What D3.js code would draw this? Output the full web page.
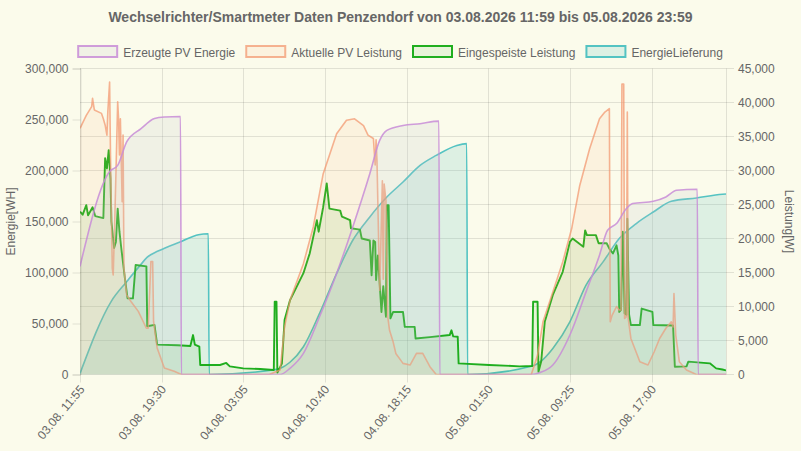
<!DOCTYPE html>
<html>
<head>
<meta charset="utf-8">
<script src="https://cdn.jsdelivr.net/npm/d3@7"></script>
<style>
  html, body { margin: 0; padding: 0; background: #fbfbeb; }
  svg { display: block; font-family: "Liberation Sans", Arial, Helvetica, sans-serif; }
</style>
</head>
<body>
<svg width="801" height="451"></svg>
<script>
const titleText = "Wechselrichter/Smartmeter Daten Penzendorf von 03.08.2026 11:59 bis 05.08.2026 23:59";
const seriesNames = ["Erzeugte PV Energie", "Aktuelle PV Leistung", "Eingespeiste Leistung", "EnergieLieferung"];
const xTicks = ["03.08. 11:55", "03.08. 19:30", "04.08. 03:05", "04.08. 10:40", "04.08. 18:15", "05.08. 01:50", "05.08. 09:25", "05.08. 17:00"];
const xStart = "03.08. 11:55";
const xEnd = "05.08. 23:55";
const leftTicks = [0, 50000, 100000, 150000, 200000, 250000, 300000];
const rightTicks = [0, 5000, 10000, 15000, 20000, 25000, 30000, 35000, 40000, 45000];

// Energie [Wh], left axis
const erzeugtePV = [
  ["03.08. 11:55", 106000], ["03.08. 14:40", 199000], ["03.08. 15:25", 205000], ["03.08. 16:15", 228000],
  ["03.08. 17:35", 241000], ["03.08. 18:50", 251000], ["03.08. 19:45", 252500], ["03.08. 21:15", 253000],
  ["03.08. 21:20", 0], ["04.08. 06:30", 0], ["04.08. 07:25", 6000], ["04.08. 08:40", 20700],
  ["04.08. 10:10", 56600], ["04.08. 11:45", 99000], ["04.08. 13:15", 144700], ["04.08. 14:50", 196900],
  ["04.08. 15:45", 229500], ["04.08. 16:25", 239300], ["04.08. 17:55", 244200], ["04.08. 19:30", 245900],
  ["04.08. 21:15", 248400], ["04.08. 21:20", 0], ["05.08. 05:50", 0], ["05.08. 06:40", 2000],
  ["05.08. 07:50", 9300], ["05.08. 09:25", 38700], ["05.08. 10:55", 81000], ["05.08. 12:10", 117000],
  ["05.08. 12:55", 141400], ["05.08. 13:45", 148000], ["05.08. 14:40", 162700], ["05.08. 15:15", 167600],
  ["05.08. 17:10", 169800], ["05.08. 18:20", 174000], ["05.08. 19:20", 180600], ["05.08. 21:15", 181600],
  ["05.08. 21:20", 0], ["05.08. 23:55", 0]
];

const energieLieferung = [
  ["03.08. 11:55", 1000], ["03.08. 14:50", 72000], ["03.08. 16:15", 91000], ["03.08. 17:30", 107000],
  ["03.08. 18:10", 115000], ["03.08. 19:10", 121000], ["03.08. 21:20", 130500], ["03.08. 22:55", 137000],
  ["03.08. 23:50", 138000], ["03.08. 23:55", 0], ["04.08. 06:10", 5000], ["04.08. 06:30", 6000],
  ["04.08. 07:25", 12000], ["04.08. 08:40", 27200], ["04.08. 10:10", 59900], ["04.08. 11:45", 99000],
  ["04.08. 13:15", 131600], ["04.08. 14:50", 154500], ["04.08. 16:25", 174000], ["04.08. 17:55", 188700],
  ["04.08. 19:30", 205000], ["04.08. 21:00", 214800], ["04.08. 22:55", 224600], ["04.08. 23:50", 226300],
  ["04.08. 23:55", 0], ["05.08. 06:00", 8500], ["05.08. 06:40", 12500], ["05.08. 07:50", 25600],
  ["05.08. 09:25", 51700], ["05.08. 10:55", 87600], ["05.08. 12:30", 110400], ["05.08. 14:00", 133300],
  ["05.08. 15:35", 148000], ["05.08. 17:10", 159300], ["05.08. 18:50", 169800], ["05.08. 21:10", 173100],
  ["05.08. 23:35", 176700], ["05.08. 23:55", 177000]
];

// Leistung [W], right axis
const aktuellePV = [
  ["03.08. 11:55", 36200], ["03.08. 12:30", 38100], ["03.08. 13:00", 39400], ["03.08. 13:05", 40600],
  ["03.08. 13:15", 38900], ["03.08. 13:55", 38400], ["03.08. 14:05", 37600], ["03.08. 14:15", 36700],
  ["03.08. 14:25", 35200], ["03.08. 14:30", 38600], ["03.08. 14:40", 43000], ["03.08. 14:45", 32300],
  ["03.08. 14:55", 15600], ["03.08. 15:00", 14650], ["03.08. 15:10", 23900], ["03.08. 15:25", 40100],
  ["03.08. 15:30", 37600], ["03.08. 15:35", 32300], ["03.08. 15:40", 37600], ["03.08. 15:50", 25400],
  ["03.08. 15:55", 35200], ["03.08. 16:00", 15600], ["03.08. 16:15", 11700], ["03.08. 16:40", 10700],
  ["03.08. 17:20", 9280], ["03.08. 18:05", 6800], ["03.08. 18:15", 6800], ["03.08. 18:30", 16600],
  ["03.08. 18:40", 16600], ["03.08. 18:45", 7800], ["03.08. 19:05", 3900], ["03.08. 19:45", 950],
  ["03.08. 20:40", 470], ["03.08. 21:20", 0], ["04.08. 05:30", 0], ["04.08. 06:30", 660],
  ["04.08. 06:55", 7000], ["04.08. 07:25", 10900], ["04.08. 08:40", 16300], ["04.08. 09:35", 21700],
  ["04.08. 10:30", 29500], ["04.08. 11:45", 35400], ["04.08. 12:40", 37400], ["04.08. 13:25", 37600],
  ["04.08. 14:15", 36600], ["04.08. 14:40", 35200], ["04.08. 15:10", 34700], ["04.08. 15:20", 30800],
  ["04.08. 15:25", 34500], ["04.08. 15:30", 31500], ["04.08. 15:40", 18700], ["04.08. 15:45", 12400],
  ["04.08. 16:00", 28500], ["04.08. 16:05", 14000], ["04.08. 16:10", 28000], ["04.08. 16:20", 25600],
  ["04.08. 16:30", 8500], ["04.08. 16:40", 6500], ["04.08. 17:00", 4800], ["04.08. 17:15", 3100],
  ["04.08. 17:55", 1640], ["04.08. 18:35", 1400], ["04.08. 19:10", 3100], ["04.08. 19:45", 3100],
  ["04.08. 20:25", 1150], ["04.08. 21:00", 0], ["05.08. 05:50", 0], ["05.08. 06:25", 2860],
  ["05.08. 06:55", 7750], ["05.08. 07:50", 12150], ["05.08. 08:45", 16560], ["05.08. 09:35", 21460],
  ["05.08. 10:20", 27800], ["05.08. 11:15", 33200], ["05.08. 12:10", 37600], ["05.08. 12:40", 38600],
  ["05.08. 13:05", 39100], ["05.08. 13:10", 7750], ["05.08. 13:20", 8700], ["05.08. 13:45", 10000],
  ["05.08. 14:00", 9500], ["05.08. 14:10", 9500], ["05.08. 14:15", 42700], ["05.08. 14:25", 42700],
  ["05.08. 14:30", 8250], ["05.08. 14:40", 8500], ["05.08. 14:45", 38600], ["05.08. 14:50", 8250],
  ["05.08. 15:05", 5300], ["05.08. 15:55", 1880], ["05.08. 16:40", 1400], ["05.08. 17:15", 3350],
  ["05.08. 17:45", 5300], ["05.08. 18:20", 6800], ["05.08. 18:50", 7750], ["05.08. 19:00", 7000],
  ["05.08. 19:05", 11900], ["05.08. 19:15", 5800], ["05.08. 19:35", 1880], ["05.08. 20:15", 660],
  ["05.08. 21:10", 0], ["05.08. 23:55", 0]
];

const eingespeist = [
  ["03.08. 11:55", 23950], ["03.08. 12:10", 23500], ["03.08. 12:30", 24900], ["03.08. 12:40", 23400],
  ["03.08. 13:05", 24600], ["03.08. 13:20", 23300], ["03.08. 14:05", 23000], ["03.08. 14:15", 31800],
  ["03.08. 14:25", 30300], ["03.08. 14:35", 33000], ["03.08. 14:45", 28800], ["03.08. 14:50", 22500],
  ["03.08. 15:05", 18600], ["03.08. 15:15", 19500], ["03.08. 15:25", 24400], ["03.08. 15:35", 21000],
  ["03.08. 15:45", 18600], ["03.08. 16:05", 14200], ["03.08. 16:20", 11200], ["03.08. 16:50", 11200],
  ["03.08. 17:05", 16100], ["03.08. 18:05", 15900], ["03.08. 18:10", 7100], ["03.08. 18:50", 7300],
  ["03.08. 19:05", 4400], ["03.08. 21:00", 4300], ["03.08. 22:10", 4200], ["03.08. 22:25", 5800],
  ["03.08. 22:35", 4400], ["03.08. 23:00", 4100], ["03.08. 23:05", 1400], ["04.08. 00:55", 1400],
  ["04.08. 01:30", 1700], ["04.08. 01:50", 1200], ["04.08. 03:05", 900], ["04.08. 04:40", 800],
  ["04.08. 05:55", 660], ["04.08. 06:00", 10700], ["04.08. 06:10", 10700], ["04.08. 06:15", 300],
  ["04.08. 06:40", 1600], ["04.08. 06:55", 8000], ["04.08. 07:25", 10900], ["04.08. 08:40", 14900],
  ["04.08. 09:15", 17800], ["04.08. 09:55", 22700], ["04.08. 10:05", 21000], ["04.08. 10:30", 24600],
  ["04.08. 10:50", 28100], ["04.08. 11:05", 24400], ["04.08. 12:05", 24100], ["04.08. 12:15", 23200],
  ["04.08. 13:00", 22700], ["04.08. 13:05", 21500], ["04.08. 13:55", 21300], ["04.08. 14:05", 20000],
  ["04.08. 14:50", 19700], ["04.08. 15:00", 14600], ["04.08. 15:10", 19700], ["04.08. 15:20", 19500],
  ["04.08. 15:25", 13900], ["04.08. 15:35", 17500], ["04.08. 15:55", 9200], ["04.08. 16:05", 13000],
  ["04.08. 16:20", 8500], ["04.08. 16:25", 24900], ["04.08. 16:35", 24900], ["04.08. 16:45", 8250],
  ["04.08. 17:00", 9200], ["04.08. 17:55", 9200], ["04.08. 18:05", 7000], ["04.08. 19:00", 7000],
  ["04.08. 19:05", 5300], ["04.08. 20:25", 5500], ["04.08. 22:15", 5800], ["04.08. 22:25", 6500],
  ["04.08. 22:35", 5600], ["04.08. 23:00", 5550], ["04.08. 23:05", 1640], ["05.08. 01:55", 1400],
  ["05.08. 04:45", 1200], ["05.08. 05:55", 1250], ["05.08. 06:00", 10700], ["05.08. 06:25", 10700],
  ["05.08. 06:30", 400], ["05.08. 06:45", 1900], ["05.08. 07:05", 7750], ["05.08. 07:50", 11700],
  ["05.08. 08:45", 15100], ["05.08. 09:25", 19500], ["05.08. 09:40", 20000], ["05.08. 10:20", 19200],
  ["05.08. 10:40", 18800], ["05.08. 10:50", 21200], ["05.08. 11:00", 20500], ["05.08. 11:50", 20500],
  ["05.08. 12:05", 19300], ["05.08. 12:50", 19300], ["05.08. 13:05", 18500], ["05.08. 13:25", 17800],
  ["05.08. 13:45", 19000], ["05.08. 13:55", 17500], ["05.08. 14:00", 9200], ["05.08. 14:10", 9500],
  ["05.08. 14:20", 21000], ["05.08. 14:30", 9000], ["05.08. 14:40", 8800], ["05.08. 14:45", 22900],
  ["05.08. 14:55", 8800], ["05.08. 15:05", 7270], ["05.08. 15:55", 7270], ["05.08. 16:05", 9700],
  ["05.08. 17:05", 9200], ["05.08. 17:10", 7270], ["05.08. 19:00", 7200], ["05.08. 19:10", 1150],
  ["05.08. 20:15", 1200], ["05.08. 20:25", 1900], ["05.08. 22:25", 1640], ["05.08. 23:00", 900],
  ["05.08. 23:35", 730], ["05.08. 23:55", 600]
];

const parseTime = d3.timeParse("%d.%m. %H:%M");
const svg = d3.select("svg");
const margin = { left: 80, right: 726, top: 68.5, bottom: 374.5 };
const textColor = "#666";
const gridColor = "rgba(0,0,0,0.1)";

const x = d3.scaleTime()
  .domain([parseTime(xStart), parseTime(xEnd)])
  .range([margin.left, margin.right]);
const yLeft = d3.scaleLinear().domain([0, 300000]).range([margin.bottom, margin.top]);
const yRight = d3.scaleLinear().domain([0, 45000]).range([margin.bottom, margin.top]);

// title
svg.append("text")
  .attr("x", 400.5).attr("y", 22)
  .attr("text-anchor", "middle")
  .attr("font-size", 14).attr("font-weight", "bold")
  .attr("fill", textColor)
  .text(titleText);

// grid: vertical (x) and horizontal (right axis)
svg.append("g").selectAll("line")
  .data(xTicks.map(parseTime))
  .join("line")
  .attr("x1", d => Math.round(x(d)) + 0.5).attr("x2", d => Math.round(x(d)) + 0.5)
  .attr("y1", margin.top).attr("y2", margin.bottom + 8)
  .attr("stroke", gridColor);

svg.append("g").selectAll("line")
  .data(rightTicks)
  .join("line")
  .attr("x1", margin.left).attr("x2", margin.right + 8)
  .attr("y1", d => Math.round(yRight(d) - 0.5) + 0.5).attr("y2", d => Math.round(yRight(d) - 0.5) + 0.5)
  .attr("stroke", gridColor);

// right axis border
svg.append("line")
  .attr("x1", margin.right + 0.5).attr("x2", margin.right + 0.5)
  .attr("y1", margin.top).attr("y2", margin.bottom)
  .attr("stroke", gridColor);

// data series, drawn last-to-first (legend order reversed)
const series = [
  { name: seriesNames[3], data: energieLieferung, y: yLeft, curve: d3.curveMonotoneX, stroke: "rgba(75,192,192,0.95)", fill: "rgba(75,192,192,0.17)", width: 1.6 },
  { name: seriesNames[2], data: eingespeist, y: yRight, curve: d3.curveLinear, stroke: "rgba(20,170,20,0.95)", fill: "rgba(60,175,50,0.1)", width: 1.9 },
  { name: seriesNames[1], data: aktuellePV, y: yRight, curve: d3.curveLinear, stroke: "rgba(242,150,110,0.72)", fill: "rgba(255,165,110,0.1)", width: 1.6 },
  { name: seriesNames[0], data: erzeugtePV, y: yLeft, curve: d3.curveMonotoneX, stroke: "rgba(200,140,215,0.85)", fill: "rgba(195,198,205,0.18)", width: 1.6 }
];

svg.append("clipPath").attr("id", "plot")
  .append("rect")
  .attr("x", margin.left).attr("y", margin.top - 2)
  .attr("width", margin.right - margin.left).attr("height", margin.bottom - margin.top + 2);

const plot = svg.append("g").attr("clip-path", "url(#plot)");

series.forEach(s => {
  const pts = s.data.map(d => [parseTime(d[0]), d[1]]);
  const area = d3.area()
    .curve(s.curve)
    .x(d => x(d[0]))
    .y0(s.y(0))
    .y1(d => s.y(d[1]));
  const line = d3.line()
    .curve(s.curve)
    .x(d => x(d[0]))
    .y(d => s.y(d[1]));
  plot.append("path").datum(pts).attr("d", area).attr("fill", s.fill);
  plot.append("path").datum(pts).attr("d", line)
    .attr("fill", "none").attr("stroke", s.stroke)
    .attr("stroke-width", s.width).attr("stroke-linejoin", "round");
});

// axes
const leftAxis = svg.append("g")
  .attr("transform", `translate(${margin.left + 0.5},0)`)
  .call(d3.axisLeft(yLeft).tickValues(leftTicks).tickFormat(d3.format(",")).tickSize(8).tickPadding(4));

const rightAxis = svg.append("g")
  .attr("transform", `translate(${margin.right},0)`)
  .call(d3.axisRight(yRight).tickValues(rightTicks).tickFormat(d3.format(",")).tickSize(0).tickPadding(12));

[leftAxis, rightAxis].forEach(a => {
  a.select(".domain").attr("stroke", gridColor);
  a.selectAll(".tick line").attr("stroke", gridColor);
  a.selectAll(".tick text").attr("fill", textColor).attr("font-size", 12)
    .attr("font-family", "Liberation Sans, Arial, sans-serif");
});
rightAxis.select(".domain").remove();

const fmtX = d3.timeFormat("%d.%m. %H:%M");
svg.append("g").selectAll("text")
  .data(xTicks.map(parseTime))
  .join("text")
  .attr("transform", d => `translate(${x(d) + 2},387) rotate(-50)`)
  .attr("text-anchor", "end")
  .attr("dy", "0.35em")
  .attr("font-size", 12)
  .attr("fill", textColor)
  .text(d => fmtX(d));

// axis titles
svg.append("text")
  .attr("transform", "translate(11,221.5) rotate(-90)")
  .attr("text-anchor", "middle").attr("dy", "0.35em")
  .attr("font-size", 12).attr("fill", textColor)
  .text("Energie[WH]");

svg.append("text")
  .attr("transform", "translate(789,221.5) rotate(90)")
  .attr("text-anchor", "middle").attr("dy", "0.35em")
  .attr("font-size", 12).attr("fill", textColor)
  .text("Leistung[W]");

// legend
const legendItems = [series[3], series[2], series[1], series[0]];
const legend = svg.append("g");
const items = legend.selectAll("g").data(legendItems).join("g");
items.append("rect")
  .attr("x", 1).attr("y", 46).attr("width", 39).attr("height", 11)
  .attr("fill", d => d.fill).attr("stroke", d => d.stroke).attr("stroke-width", 2);
items.append("text")
  .attr("x", 46).attr("y", 56.5)
  .attr("font-size", 12).attr("fill", textColor)
  .text(d => d.name);

const widths = [];
items.each(function () {
  widths.push(40 + 6 + d3.select(this).select("text").node().getComputedTextLength());
});
const total = d3.sum(widths) + 10 * (widths.length - 1);
let pos = 400 - total / 2;
items.attr("transform", (d, i) => {
  const t = `translate(${pos},0)`;
  pos += widths[i] + 10;
  return t;
});
</script>
</body>
</html>
